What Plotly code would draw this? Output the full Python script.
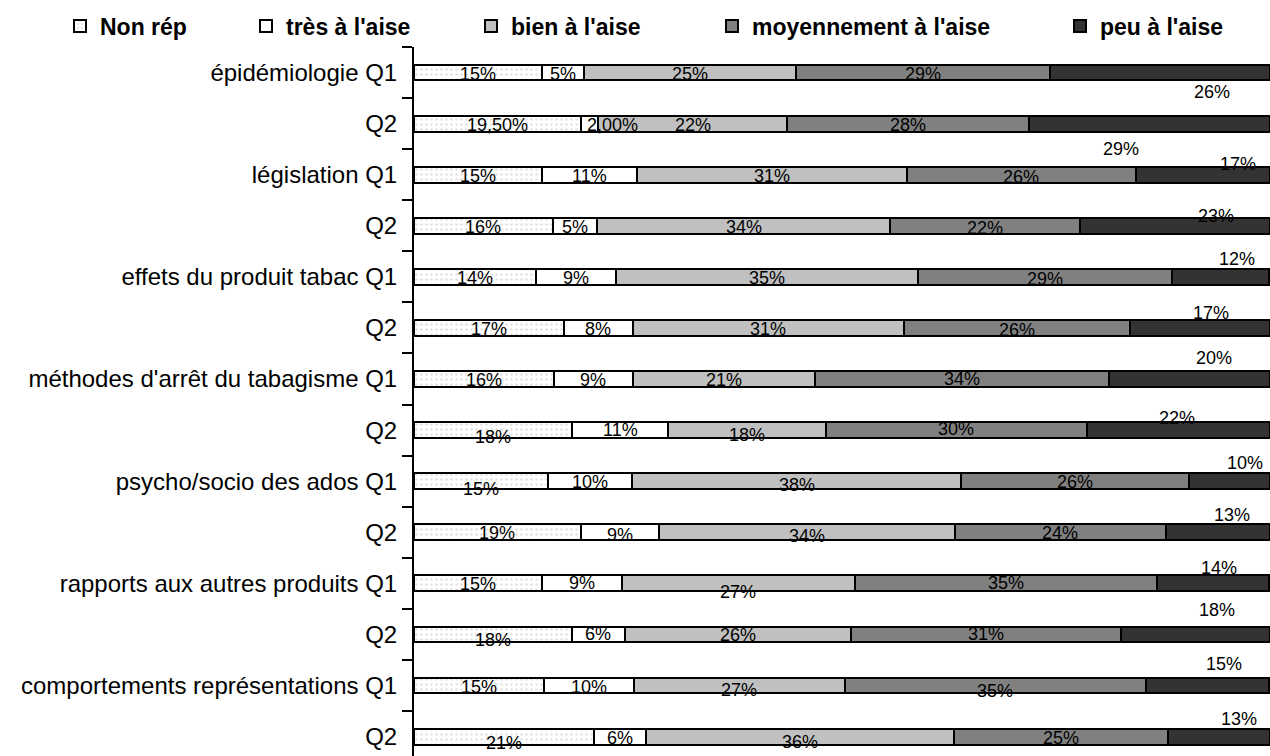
import plotly.graph_objects as go
import numpy as np

# ---------------- data ----------------
categories = ["épidémiologie Q1", "Q2", "législation Q1", "Q2",
              "effets du produit tabac Q1", "Q2",
              "méthodes d'arrêt du tabagisme Q1", "Q2",
              "psycho/socio des ados Q1", "Q2",
              "rapports aux autres produits Q1", "Q2",
              "comportements représentations Q1", "Q2"]

series_names = ["Non rép", "très à l'aise", "bien à l'aise",
                "moyennement à l'aise", "peu à l'aise"]

# bar lengths (share in %)
non_rep = [15.0, 19.5, 15.0, 16.2, 14.3, 17.5, 16.3, 18.5, 15.6, 19.5, 15.0, 18.5, 15.2, 21.05]
tres = [4.9, 2.0, 11.1, 5.2, 9.3, 8.1, 9.3, 11.2, 9.9, 9.1, 9.3, 6.1, 10.5, 6.0]
bien = [24.7, 22.1, 31.5, 34.2, 35.3, 31.6, 21.3, 18.4, 38.4, 34.6, 27.2, 26.45, 24.6, 36.0]
moyen = [29.7, 28.2, 26.7, 22.2, 29.6, 26.45, 34.3, 30.5, 26.6, 24.6, 35.3, 31.6, 35.2, 25.0]
peu = [25.7, 28.2, 15.7, 22.2, 11.4, 16.3, 18.8, 21.4, 9.5, 12.2, 13.1, 17.4, 14.4, 11.95]

# data labels as printed on the chart
non_rep_lbl = ["15%", "19,50%", "15%", "16%", "14%", "17%", "16%", "18%", "15%", "19%", "15%", "18%", "15%", "21%"]
tres_lbl = ["5%", "2,00%", "11%", "5%", "9%", "8%", "9%", "11%", "10%", "9%", "9%", "6%", "10%", "6%"]
bien_lbl = ["25%", "22%", "31%", "34%", "35%", "31%", "21%", "18%", "38%", "34%", "27%", "26%", "27%", "36%"]
moyen_lbl = ["29%", "28%", "26%", "22%", "29%", "26%", "34%", "30%", "26%", "24%", "35%", "31%", "35%", "25%"]
peu_lbl = ["26%", "29%", "17%", "23%", "12%", "17%", "20%", "22%", "10%", "13%", "14%", "18%", "15%", "13%"]

# ---------------- label placement offsets (pixels, dy positive = down) ----------------
non_rep_dx = [0] * 14
non_rep_dy = [1, 1, 1, 1, 1, 1, 1, 7, 8, 1, 1, 6, 1, 6]
tres_dx = [0, 23, 0, 0, 0, 0, 0, 0, 0, 0, 0, 0, 0, 0]
tres_dy = [1, 1, 1, 1, 1, 1, 1, 0, 1, 3, 0, 0, 1, 1]
bien_dx = [0] * 14
bien_dy = [1, 1, 1, 1, 1, 1, 1, 5, 4, 4, 9, 1, 4, 5]
moyen_dx = [0] * 14
moyen_dy = [1, 1, 2, 2, 2, 2, 0, -1, 1, 1, 0, 0, 5, 1]
peu_dx = [52, -28, 35, 41, 17, 11, 24, -1, 16, 14, 6, 21, 16, 20]
peu_dy = [19, 25, -11, -10, -18, -15, -21, -12, -18, -17, -15, -24, -22, -18]

FONT = "Arial, 'Liberation Sans', sans-serif"

row_ids = [f"r{i}" for i in range(len(categories))]

styles = [
    dict(color="#ffffff", pattern=dict(shape=".", fgcolor="#c4c4c4", bgcolor="#ffffff", size=5, solidity=0.22)),
    dict(color="#ffffff"),
    dict(color="#c0c0c0"),
    dict(color="#808080"),
    dict(color="#333333"),
]
values = [non_rep, tres, bien, moyen, peu]
labels = [non_rep_lbl, tres_lbl, bien_lbl, moyen_lbl, peu_lbl]
dxs = [non_rep_dx, tres_dx, bien_dx, moyen_dx, peu_dx]
dys = [non_rep_dy, tres_dy, bien_dy, moyen_dy, peu_dy]
legend_ids = ["legend2", "legend3", "legend4", "legend5", "legend6"]
legend_x_px = [60, 246, 471, 712, 1060]

W, H = 1270, 756
ML, MR, MT, MB = 414, 0, 47, 0

fig = go.Figure()
annotations = []
cum = np.zeros(len(categories))
for k, name in enumerate(series_names):
    v = np.array(values[k], dtype=float)
    marker = dict(color=styles[k]["color"], line=dict(color="#000000", width=2))
    if "pattern" in styles[k]:
        marker["pattern"] = styles[k]["pattern"]
    fig.add_trace(go.Bar(
        y=row_ids, x=v, name=name, orientation="h",
        marker=marker, legend=legend_ids[k], hoverinfo="skip",
        showlegend=True,
    ))
    centers = cum + v / 2
    for i in range(len(categories)):
        annotations.append(dict(
            x=centers[i], y=row_ids[i], xref="x", yref="y",
            text=labels[k][i], showarrow=False,
            xshift=dxs[k][i], yshift=-dys[k][i],
            font=dict(family=FONT, size=18, color="#000000"),
        ))
    cum = cum + v

layout_legends = {}
for k, lid in enumerate(legend_ids):
    layout_legends[lid] = dict(
        x=legend_x_px[k] / W, y=1 - 26 / H, xref="container", yref="container",
        xanchor="left", yanchor="middle", orientation="h",
        font=dict(family=FONT, size=23, color="#000000", weight="bold"),
        bgcolor="rgba(0,0,0,0)", borderwidth=0,
    )

fig.update_layout(
    width=W, height=H,
    margin=dict(l=ML, r=MR, t=MT, b=MB, pad=0, autoexpand=False),
    paper_bgcolor="#ffffff", plot_bgcolor="#ffffff",
    barmode="stack", bargap=0.69, showlegend=True,
    font=dict(family=FONT, color="#000000"),
    annotations=annotations,
    xaxis=dict(range=[0, 100], visible=False, fixedrange=True, automargin=False),
    yaxis=dict(
        type="category", categoryorder="array", categoryarray=row_ids,
        tickmode="array", tickvals=row_ids, ticktext=categories,
        range=[13.38, -0.5], automargin=False,
        showline=True, linecolor="#000000", linewidth=2,
        ticks="outside", tickson="boundaries", ticklen=10, tickwidth=2, tickcolor="#000000",
        ticklabelstandoff=10,
        tickfont=dict(family=FONT, size=24, color="#000000"),
        showgrid=False, zeroline=False, fixedrange=True,
    ),
    **layout_legends,
)

fig.write_html(
    "out.html",
    config={"displayModeBar": False},
    post_script="document.body.style.margin='0';document.body.style.overflow='hidden';",
)
